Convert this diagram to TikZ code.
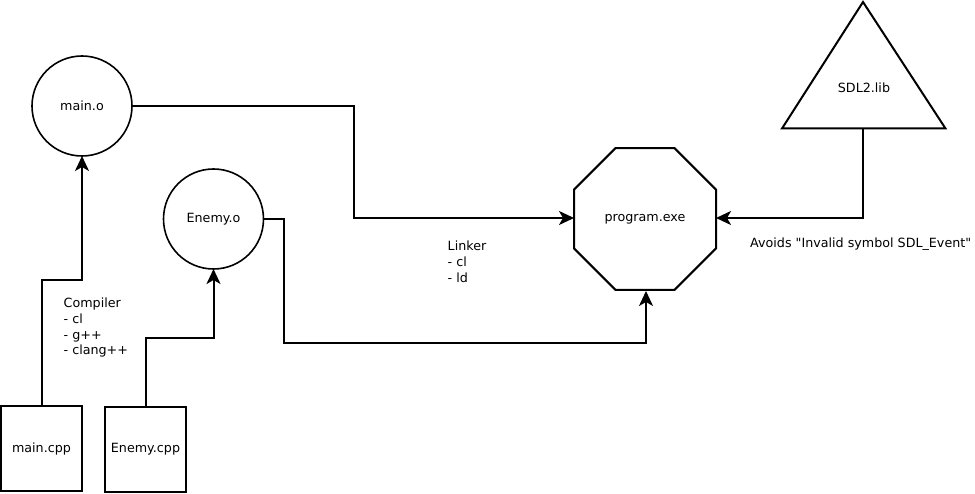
\documentclass[tikz,border=0pt]{standalone}
\usepackage{fontspec}
\newfontfamily\dvsans{DejaVu Sans}
\usetikzlibrary{shapes.geometric,arrows.meta}
\begin{document}
\begin{tikzpicture}[x=1pt,y=-1pt,
  every node/.style={font=\dvsans\fontsize{12.7}{15.7}\selectfont},
  obj/.style={circle,draw,line width=1.6pt,minimum size=100pt,inner sep=0pt,outer sep=0pt},
  src/.style={rectangle,draw,line width=2pt,minimum width=81pt,minimum height=85pt,inner sep=0pt,outer sep=0pt},
  exe/.style={regular polygon,regular polygon sides=8,draw,line width=2pt,minimum size=153.7pt,inner sep=0pt,outer sep=0pt},
  lbl/.style={align=left,anchor=north west,inner sep=0pt},
  conn/.style={line width=2pt,-{Stealth[length=15pt,width=14pt,inset=4pt]}}
]
\useasboundingbox (0,0) rectangle (975,494);
\node[obj] (maino) at (82,106) {main.o};
\node[obj] (enemyo) at (213.5,219) {Enemy.o};
\node[src] (maincpp) at (41.5,448.5) {main.cpp};
\node[src] (enemycpp) at (145.5,449) {Enemy.cpp};
\node[exe] (prog) at (645,219) {program.exe};
\coordinate (tA) at (863,2);
\coordinate (tL) at (782,128.5);
\coordinate (tR) at (945.5,128.5);
\draw[line width=2pt,line join=miter] (tA) -- (tL) -- (tR) -- cycle;
\node (sdl) at (864,88) {SDL2.lib};
\coordinate (tB) at (863,128.5);
\node[lbl] (comp) at (63.5,298) {Compiler\\- cl\\- g++\\- clang++};
\node[lbl] (link) at (447.5,241) {Linker\\- cl\\- ld};
\node[lbl] (avoid) at (750,238) {Avoids "Invalid symbol SDL\_Event"};
\draw[conn] (maincpp.north) -- (41.5,280) -| (maino.south);
\draw[conn] (enemycpp.north) -- (145.5,338) -| (enemyo.south);
\draw[conn] (maino.east) -| (354,218) -- (prog.west |- 0,218);
\draw[conn] (enemyo.east) -| (284,343) -| (646,291);
\draw[conn] (tB) |- (prog.east |- 0,218);
\end{tikzpicture}
\end{document}
